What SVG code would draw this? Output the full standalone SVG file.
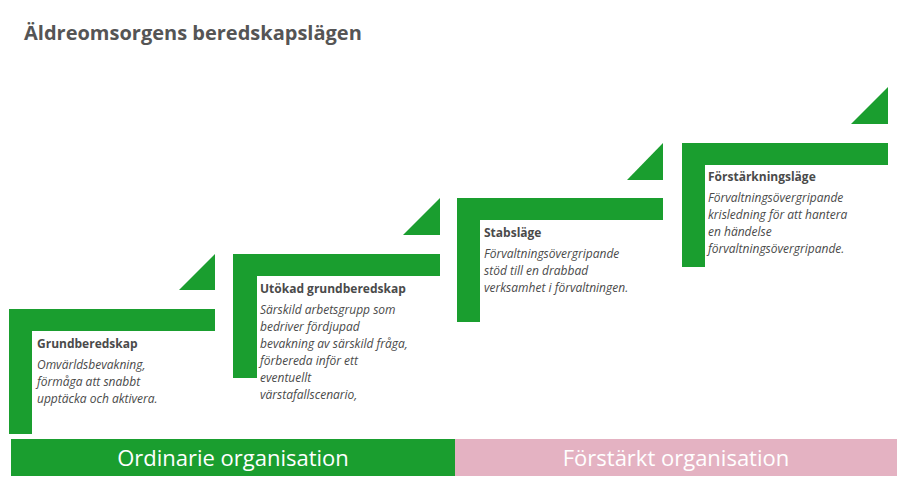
<svg xmlns="http://www.w3.org/2000/svg" width="897" height="483" viewBox="0 0 897 483">
<style>
.g{fill:#1a9e2f}
.t{font-family:"Open Sans","Liberation Sans",sans-serif;font-size:12px;font-weight:bold;fill:#4a4a4a}
.d{font-family:"Open Sans","Liberation Sans",sans-serif;font-size:12px;font-style:italic;fill:#4a4a4a}
.b{font-family:"Open Sans","Liberation Sans",sans-serif;font-size:22px;fill:#fff;text-anchor:middle}
</style>
<rect width="897" height="483" fill="#fff"/>
<text x="24" y="40" font-family="Open Sans,Liberation Sans,sans-serif" font-size="20" font-weight="bold" fill="#555">Äldreomsorgens beredskapslägen</text>
<g id="step1">
<path class="g" d="M9 309H215V331H32V434H9Z"/>
<path class="g" d="M179 290L215 254V290Z"/>
<text class="t" x="37" y="348">Grundberedskap</text>
<text class="d"><tspan x="37" y="369">Omvärldsbevakning,</tspan><tspan x="37" y="386">förmåga att snabbt</tspan><tspan x="37" y="403">upptäcka och aktivera.</tspan></text>
</g>
<g id="step2">
<path class="g" d="M233 254H440V276H257V378H233Z"/>
<path class="g" d="M403 235L440 198V235Z"/>
<text class="t" x="260" y="293">Utökad grundberedskap</text>
<text class="d"><tspan x="260" y="314">Särskild arbetsgrupp som</tspan><tspan x="260" y="331">bedriver fördjupad</tspan><tspan x="260" y="348">bevakning av särskild fråga,</tspan><tspan x="260" y="365">förbereda inför ett</tspan><tspan x="260" y="382">eventuellt</tspan><tspan x="260" y="399">värstafallscenario,</tspan></text>
</g>
<g id="step3">
<path class="g" d="M457 198H663V220H480V322H457Z"/>
<path class="g" d="M627 180L663 143V180Z"/>
<text class="t" x="484" y="237">Stabsläge</text>
<text class="d"><tspan x="484" y="258">Förvaltningsövergripande</tspan><tspan x="484" y="275">stöd till en drabbad</tspan><tspan x="484" y="292">verksamhet i förvaltningen.</tspan></text>
</g>
<g id="step4">
<path class="g" d="M682 143H888V165H705V267H682Z"/>
<path class="g" d="M851 124L888 87V124Z"/>
<text class="t" x="708" y="181">Förstärkningsläge</text>
<text class="d"><tspan x="708" y="202">Förvaltningsövergripande</tspan><tspan x="708" y="219">krisledning för att hantera</tspan><tspan x="708" y="236">en händelse</tspan><tspan x="708" y="253">förvaltningsövergripande.</tspan></text>
</g>
<g id="bars">
<rect class="g" x="11" y="439" width="444" height="37"/>
<rect x="455" y="439" width="442" height="37" fill="#e4b2c2"/>
<text class="b" x="233" y="466">Ordinarie organisation</text>
<text class="b" x="676" y="466">Förstärkt organisation</text>
</g>
<g id="connectors"/>
</svg>
